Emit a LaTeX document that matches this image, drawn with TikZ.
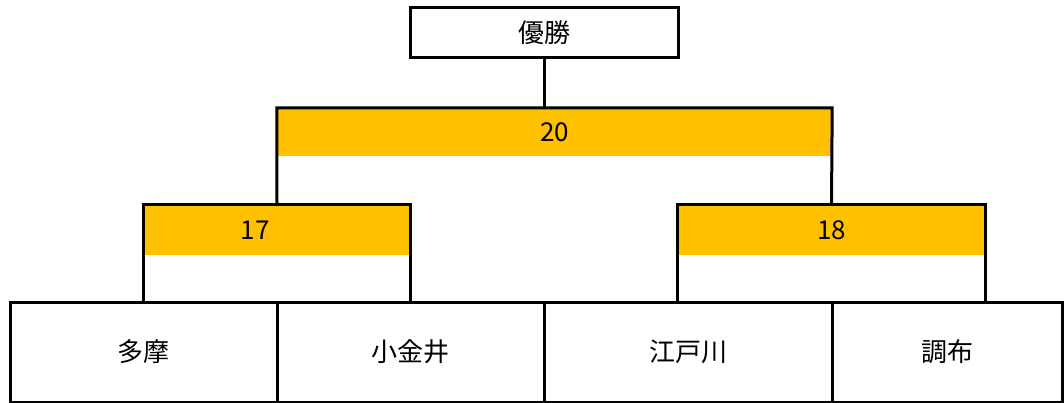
\documentclass[tikz,border=0pt]{standalone}
\usepackage{fontspec}
\setmainfont{Noto Sans CJK JP}
\definecolor{score}{HTML}{FFC000}
\tikzset{
  box/.style={draw, line width=3pt, inner sep=0pt},
  band/.style={fill=score, inner sep=0pt, minimum height=50pt},
  bline/.style={line width=3pt},
}
\begin{document}
\begin{tikzpicture}[x=1pt,y=-1pt,font=\fontsize{26}{30}\selectfont]
\useasboundingbox (0,0) rectangle (1064,403);

% 優勝
\node[box, minimum width=268pt, minimum height=50pt] (win) at (544,33) {優勝};

% 決勝・準決勝
\node[band, minimum width=555pt, minimum height=48pt] (s20) at (554.5,132) {20};
\node[band, minimum width=266pt] (s17) at (277,230) {};
\node at ([xshift=-22pt]s17.center) {17};
\node[band, minimum width=307pt] (s18) at (831.5,230) {18};

% チーム
\node[box, minimum width=267pt, minimum height=100pt] (t1) at (143.5,352) {多摩};
\node[box, minimum width=267pt, minimum height=100pt] (t2) at (410.5,352) {小金井};
\node[box, minimum width=288pt, minimum height=100pt] (t3) at (688,352) {江戸川};
\node[box, minimum width=230pt, minimum height=100pt] (t4) at (947,352) {調布};

% 線
\draw[bline] (win.south) -- (win.south |- s20.north);
\draw[bline] (s17.north) -- (s20.north west) -- (s20.north east) -- (s18.north);
\draw[bline] (s17.north west |- t1.north) -- (s17.north west) -- (s17.north east) -- (s17.north east |- t2.north);
\draw[bline] (s18.north west |- t3.north) -- (s18.north west) -- (s18.north east) -- (s18.north east |- t4.north);
\end{tikzpicture}
\end{document}
